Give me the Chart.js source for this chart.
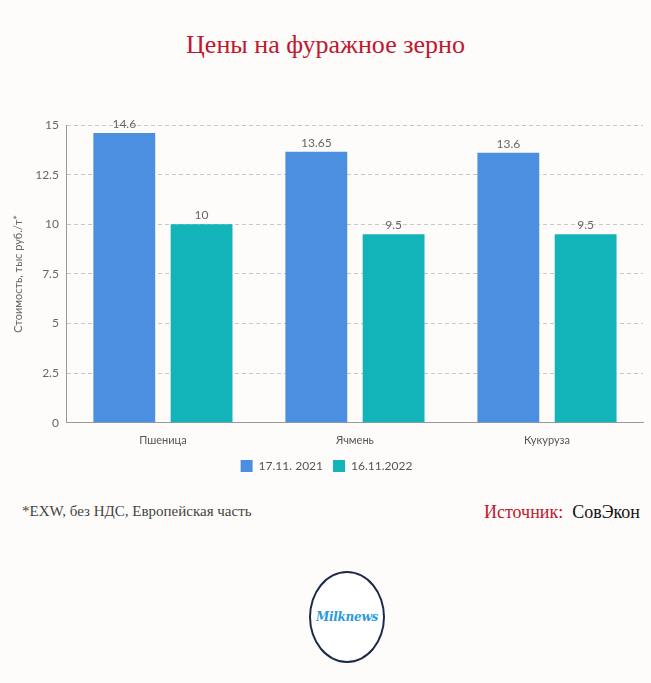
<!DOCTYPE html>
<html lang="ru">
<head>
    <meta charset="UTF-8">
    <script src="https://cdn.jsdelivr.net/npm/chart.js"></script>
    <title>Цены на фуражное зерно</title>
    <style>
        body {
            margin: 0;
            padding: 0;
            background-color: #fdfcfa;
            width: 651px;
            height: 683px;
            position: relative;
            overflow: hidden;
            font-family: "Liberation Serif", serif;
        }
        #title {
            position: absolute;
            top: 30px;
            left: 0;
            width: 651px;
            text-align: center;
            color: #c1172f;
            font-size: 26px;
        }
        #wrap {
            position: absolute;
            left: 0;
            top: 105px;
            width: 651px;
            height: 377px;
        }
        #note {
            position: absolute;
            left: 22px;
            top: 503px;
            color: #444;
            font-size: 15px;
        }
        #source {
            position: absolute;
            right: 11px;
            top: 502px;
            font-size: 18px;
            color: #111;
        }
        #source span { color: #c1172f; }
        #logo {
            position: absolute;
            left: 309px;
            top: 571px;
            width: 76px;
            height: 92px;
            border: 2px solid #1d2a4a;
            border-radius: 50%;
            box-sizing: border-box;
            background: #fff;
            text-align: center;
            line-height: 88px;
            color: #2a9ae0;
            font-family: "DejaVu Serif", serif;
            font-style: italic;
            font-weight: bold;
            font-size: 12px;
            letter-spacing: -0.3px;
        }
    </style>
</head>
<body>
    <div id="title">Цены на фуражное зерно</div>
    <div id="wrap"><canvas id="chart"></canvas></div>
    <div id="note">*EXW, без НДС, Европейская часть</div>
    <div id="source"><span>Источник:</span>&nbsp; СовЭкон</div>
    <div id="logo">Milknews</div>

    <script>
        const categories = ['Пшеница', 'Ячмень', 'Кукуруза'];
        const seriesNames = ['17.11. 2021', '16.11.2022'];
        const prices2021 = [14.6, 13.65, 13.6];
        const prices2022 = [10, 9.5, 9.5];
        const yTicks = [0, 2.5, 5, 7.5, 10, 12.5, 15];

        // подписи значений над столбцами
        const valueLabels = {
            id: 'valueLabels',
            afterDatasetsDraw(chart) {
                const ctx = chart.ctx;
                ctx.save();
                ctx.font = '12px Lato';
                ctx.fillStyle = '#666';
                ctx.textAlign = 'center';
                ctx.textBaseline = 'bottom';
                chart.data.datasets.forEach((ds, i) => {
                    chart.getDatasetMeta(i).data.forEach((bar, j) => {
                        ctx.fillText(String(ds.data[j]), bar.x, bar.y - 3);
                    });
                });
                ctx.restore();
            }
        };

        new Chart(document.getElementById('chart'), {
            type: 'bar',
            data: {
                labels: categories,
                datasets: [{
                    label: seriesNames[0],
                    data: prices2021,
                    backgroundColor: '#4a8fe0',
                    categoryPercentage: 0.805,
                    barPercentage: 0.8
                }, {
                    label: seriesNames[1],
                    data: prices2022,
                    backgroundColor: '#12b3b9',
                    categoryPercentage: 0.805,
                    barPercentage: 0.8
                }]
            },
            options: {
                responsive: true,
                maintainAspectRatio: false,
                animation: false,
                layout: { padding: { top: 20, right: 8, left: 10, bottom: 0 } },
                plugins: {
                    legend: {
                        position: 'bottom',
                        labels: {
                            boxWidth: 12,
                            boxHeight: 12,
                            color: '#555',
                            font: { family: 'Lato', size: 12 }
                        }
                    },
                    tooltip: { enabled: false }
                },
                scales: {
                    x: {
                        grid: { display: false },
                        border: { color: '#999' },
                        ticks: { color: '#555', font: { family: 'Lato', size: 11 } }
                    },
                    y: {
                        min: 0,
                        max: 15,
                        afterBuildTicks(axis) {
                            axis.ticks = yTicks.map(v => ({ value: v }));
                        },
                        grid: { color: '#c8c8c8', drawTicks: false },
                        border: { color: '#999', dash: [4, 3] },
                        ticks: {
                            color: '#666',
                            padding: 8,
                            font: { family: 'Lato', size: 12 }
                        },
                        title: {
                            display: true,
                            text: 'Стоимость, тыс руб./т*',
                            color: '#666',
                            padding: 2,
                            font: { family: 'Lato', size: 11 }
                        }
                    }
                }
            },
            plugins: [valueLabels]
        });
    </script>
</body>
</html>
